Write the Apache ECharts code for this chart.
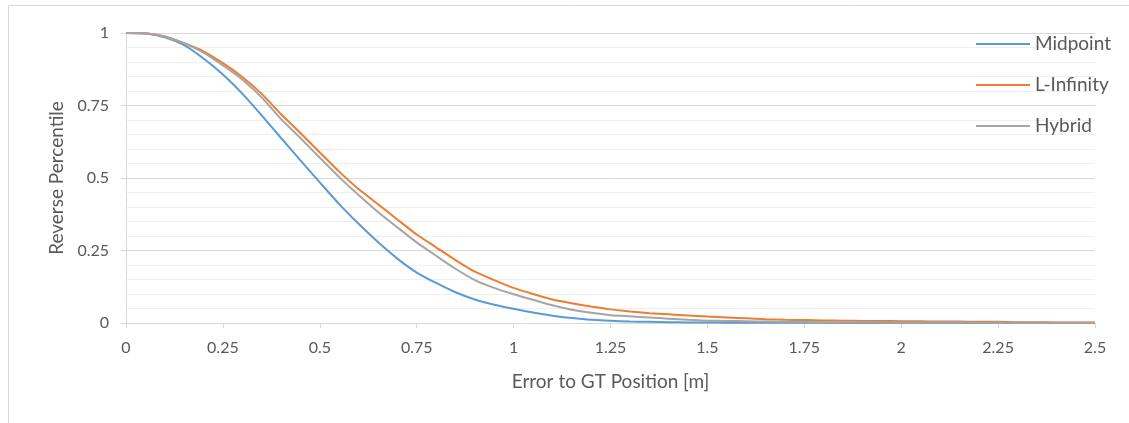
<!DOCTYPE html>
<html>
<head>
<meta charset="utf-8">
<script src="https://cdn.jsdelivr.net/npm/echarts@6/dist/echarts.min.js"></script>
<style>
  html, body { margin: 0; padding: 0; background: #ffffff; }
  #chart { width: 1129px; height: 423px; }
</style>
</head>
<body>
<div id="chart"></div>
<script>
// Error to GT position [m]
const errors = [0, 0.05, 0.1, 0.15, 0.2, 0.25, 0.3, 0.35, 0.4, 0.45, 0.5, 0.55, 0.6, 0.65, 0.7, 0.75, 0.8, 0.85, 0.9, 0.95,
  1.0, 1.05, 1.1, 1.15, 1.2, 1.25, 1.3, 1.35, 1.4, 1.45, 1.5, 1.55, 1.6, 1.65, 1.7, 1.75, 1.8, 1.85, 1.9, 1.95,
  2.0, 2.05, 2.1, 2.15, 2.2, 2.25, 2.3, 2.35, 2.4, 2.45, 2.5];

const midpoint = [1.000, 0.998, 0.985, 0.958, 0.912, 0.857, 0.791, 0.716, 0.638, 0.561, 0.485, 0.410, 0.342, 0.279, 0.222, 0.174, 0.138, 0.106, 0.081, 0.063,
  0.049, 0.036, 0.025, 0.017, 0.011, 0.008, 0.005, 0.004, 0.003, 0.002, 0.002, 0.001, 0.001, 0.001, 0.001, 0.001, 0.001, 0.000, 0.000, 0.000,
  0.000, 0.000, 0.000, 0.000, 0.000, 0.000, 0.000, 0.000, 0.000, 0.000, 0.000];

const lInfinity = [1.000, 0.999, 0.988, 0.965, 0.937, 0.896, 0.848, 0.790, 0.720, 0.655, 0.588, 0.522, 0.462, 0.410, 0.357, 0.305, 0.261, 0.217, 0.177, 0.148,
  0.121, 0.100, 0.081, 0.068, 0.057, 0.047, 0.040, 0.034, 0.030, 0.026, 0.022, 0.019, 0.016, 0.013, 0.011, 0.010, 0.009, 0.008, 0.007, 0.007,
  0.006, 0.006, 0.005, 0.005, 0.004, 0.004, 0.003, 0.003, 0.002, 0.002, 0.002];

const hybrid = [1.000, 0.999, 0.988, 0.964, 0.932, 0.888, 0.840, 0.778, 0.703, 0.638, 0.570, 0.503, 0.441, 0.383, 0.330, 0.278, 0.232, 0.187, 0.148, 0.121,
  0.099, 0.080, 0.061, 0.046, 0.035, 0.027, 0.023, 0.019, 0.015, 0.011, 0.008, 0.007, 0.006, 0.005, 0.004, 0.004, 0.003, 0.003, 0.003, 0.002,
  0.002, 0.002, 0.002, 0.002, 0.001, 0.001, 0.001, 0.001, 0.001, 0.001, 0.001];

const seriesNames = ['Midpoint', 'L-Infinity', 'Hybrid'];
const seriesValues = [midpoint, lInfinity, hybrid];
const colors = ['#5B9BD5', '#ED7D31', '#A5A5A5'];

const FONT = 'Lato, "Open Sans", sans-serif';
const chart = echarts.init(document.getElementById('chart'), null, { renderer: 'canvas' });

chart.setOption({
  backgroundColor: '#ffffff',
  animation: false,
  graphic: [{
    type: 'rect',
    shape: { x: 8.5, y: 5.5, width: 1300, height: 600 },
    style: { fill: 'none', stroke: '#d9d9d9', lineWidth: 1 },
    silent: true, z: -10
  }],
  grid: { left: 126, right: 34, top: 33, bottom: 100, containLabel: false },
  legend: {
    orient: 'vertical',
    left: 970,
    top: 29,
    itemWidth: 54,
    itemHeight: 14,
    itemGap: 21,
    data: seriesNames,
    itemStyle: { opacity: 0 },
    lineStyle: { width: 2 },
    textStyle: { color: '#595959', fontSize: 19, lineHeight: 20, fontFamily: FONT, padding: [0, 0, 0, 0] }
  },
  xAxis: {
    type: 'value',
    min: 0, max: 2.5, interval: 0.25,
    name: 'Error to GT Position [m]',
    nameLocation: 'middle',
    nameGap: 49,
    nameTextStyle: { color: '#595959', fontSize: 19, fontFamily: FONT },
    axisLine: { show: true, lineStyle: { color: '#d9d9d9', width: 1 } },
    axisTick: { show: true, length: 5, lineStyle: { color: '#d9d9d9' } },
    axisLabel: { color: '#595959', fontSize: 16, fontFamily: FONT, margin: 17 },
    splitLine: { show: false }
  },
  yAxis: {
    type: 'value',
    min: 0, max: 1, interval: 0.25,
    name: 'Reverse Percentile',
    nameLocation: 'middle',
    nameGap: 59,
    nameTextStyle: { color: '#595959', fontSize: 19, fontFamily: FONT },
    axisLine: { show: true, lineStyle: { color: '#d9d9d9', width: 1 } },
    axisTick: { show: true, length: 5, lineStyle: { color: '#d9d9d9' } },
    axisLabel: { color: '#595959', fontSize: 16, fontFamily: FONT, margin: 17 },
    splitLine: { show: true, lineStyle: { color: '#d9d9d9', width: 1 } },
    minorTick: { show: false, splitNumber: 5 },
    minorSplitLine: { show: true, lineStyle: { color: '#efefef', width: 1 } }
  },
  series: seriesNames.map((name, i) => ({
    name: name,
    type: 'line',
    data: errors.map((e, j) => [e, seriesValues[i][j]]),
    symbol: 'none',
    smooth: 0.2,
    color: colors[i],
    lineStyle: { color: colors[i], width: 2 }
  }))
});
</script>
</body>
</html>
